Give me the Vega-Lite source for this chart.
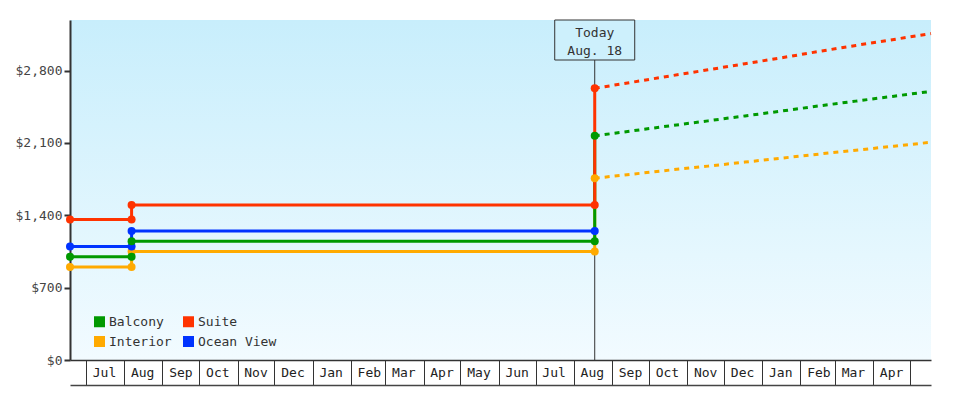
{
  "$schema": "https://vega.github.io/schema/vega-lite/v6.json",
  "autosize": "none",
  "width": 861,
  "height": 340,
  "padding": {"left": 70, "top": 20, "right": 49, "bottom": 40},
  "background": "#ffffff",
  "view": {
    "stroke": null,
    "fill": {
      "gradient": "linear", "x1": 0, "y1": 0, "x2": 0, "y2": 1,
      "stops": [{"offset": 0, "color": "#c8eefc"}, {"offset": 1, "color": "#f2fbff"}]
    }
  },
  "config": {"font": "DejaVu Sans Mono"},
  "datasets": {
    "hist": [
      {"type": "Interior", "date": "2017/06/18", "price": 899, "seq": 1},
      {"type": "Interior", "date": "2017/08/07", "price": 899, "seq": 2},
      {"type": "Interior", "date": "2017/08/07", "price": 1049, "seq": 3},
      {"type": "Interior", "date": "2018/08/18", "price": 1049, "seq": 4},
      {"type": "Interior", "date": "2018/08/18", "price": 1759, "seq": 5},
      {"type": "Ocean View", "date": "2017/06/18", "price": 1099, "seq": 1},
      {"type": "Ocean View", "date": "2017/08/07", "price": 1099, "seq": 2},
      {"type": "Ocean View", "date": "2017/08/07", "price": 1249, "seq": 3},
      {"type": "Ocean View", "date": "2018/08/18", "price": 1249, "seq": 4},
      {"type": "Balcony", "date": "2017/06/18", "price": 999, "seq": 1},
      {"type": "Balcony", "date": "2017/08/07", "price": 999, "seq": 2},
      {"type": "Balcony", "date": "2017/08/07", "price": 1149, "seq": 3},
      {"type": "Balcony", "date": "2018/08/18", "price": 1149, "seq": 4},
      {"type": "Balcony", "date": "2018/08/18", "price": 2169, "seq": 5},
      {"type": "Suite", "date": "2017/06/18", "price": 1359, "seq": 1},
      {"type": "Suite", "date": "2017/08/07", "price": 1359, "seq": 2},
      {"type": "Suite", "date": "2017/08/07", "price": 1499, "seq": 3},
      {"type": "Suite", "date": "2018/08/18", "price": 1499, "seq": 4},
      {"type": "Suite", "date": "2018/08/18", "price": 2629, "seq": 5}
    ],
    "forecast": [
      {"type": "Interior", "date": "2018/08/18", "price": 1759},
      {"type": "Interior", "date": "2018/09/18", "price": 1799},
      {"type": "Interior", "date": "2018/10/18", "price": 1838},
      {"type": "Interior", "date": "2018/11/18", "price": 1876},
      {"type": "Interior", "date": "2018/12/18", "price": 1915},
      {"type": "Interior", "date": "2019/01/18", "price": 1955},
      {"type": "Interior", "date": "2019/02/18", "price": 1995},
      {"type": "Interior", "date": "2019/03/18", "price": 2030},
      {"type": "Interior", "date": "2019/04/18", "price": 2069},
      {"type": "Interior", "date": "2019/05/18", "price": 2107},
      {"type": "Balcony", "date": "2018/08/18", "price": 2169},
      {"type": "Balcony", "date": "2018/09/18", "price": 2218},
      {"type": "Balcony", "date": "2018/10/18", "price": 2266},
      {"type": "Balcony", "date": "2018/11/18", "price": 2314},
      {"type": "Balcony", "date": "2018/12/18", "price": 2362},
      {"type": "Balcony", "date": "2019/01/18", "price": 2411},
      {"type": "Balcony", "date": "2019/02/18", "price": 2462},
      {"type": "Balcony", "date": "2019/03/18", "price": 2505},
      {"type": "Balcony", "date": "2019/04/18", "price": 2553},
      {"type": "Balcony", "date": "2019/05/18", "price": 2599},
      {"type": "Suite", "date": "2018/08/18", "price": 2629},
      {"type": "Suite", "date": "2018/09/18", "price": 2689},
      {"type": "Suite", "date": "2018/10/18", "price": 2748},
      {"type": "Suite", "date": "2018/11/18", "price": 2808},
      {"type": "Suite", "date": "2018/12/18", "price": 2867},
      {"type": "Suite", "date": "2019/01/18", "price": 2927},
      {"type": "Suite", "date": "2019/02/18", "price": 2990},
      {"type": "Suite", "date": "2019/03/18", "price": 3044},
      {"type": "Suite", "date": "2019/04/18", "price": 3102},
      {"type": "Suite", "date": "2019/05/18", "price": 3159}
    ],
    "today": [{"label": "Today\nAug. 18"}]
  },
  "resolve": {"axis": {"x": "independent"}},
  "layer": [
    {
      "data": {"name": "today"},
      "mark": {"type": "rule", "color": "#333333", "strokeWidth": 1, "y2Offset": 40},
      "encoding": {
        "x": {"datum": {"year": 2018, "month": 8, "date": 18}, "type": "temporal", "axis": null},
        "y": {"datum": 0, "type": "quantitative"},
        "y2": {"datum": 3290}
      }
    },
    {
      "data": {"name": "hist"},
      "mark": {"type": "line", "strokeWidth": 3},
      "encoding": {
        "x": {
          "field": "date", "type": "temporal",
          "scale": {"domain": [{"year": 2017, "month": 6, "date": 18}, {"year": 2019, "month": 5, "date": 18}]},
          "axis": {
            "orient": "bottom", "format": "%b", "tickCount": {"interval": "month", "step": 1},
            "tickSize": 25, "tickColor": "#333333", "tickWidth": 1,
            "domainColor": "#333333", "domainWidth": 1.5,
            "labelOffset": 18, "labelPadding": -19, "labelFlush": false, "labelOverlap": false, "labelBound": false,
            "labelExpr": "datum.value >= datetime(2019, 4, 1) ? '' : datum.label",
            "labelColor": "#222222", "labelFont": "DejaVu Sans Mono", "labelFontSize": 13,
            "grid": false, "title": null
          }
        },
        "y": {
          "field": "price", "type": "quantitative",
          "scale": {"domain": [0, 3290], "nice": false},
          "axis": {
            "orient": "left", "values": [0, 700, 1400, 2100, 2800], "format": "$,.0f",
            "domainColor": "#333333", "domainWidth": 2, "tickColor": "#333333", "tickWidth": 2, "tickSize": 6,
            "labelPadding": 2, "labelColor": "#444444", "labelFont": "DejaVu Sans Mono", "labelFontSize": 13,
            "grid": false, "title": null
          }
        },
        "color": {
          "field": "type", "type": "nominal",
          "scale": {"domain": ["Balcony", "Suite", "Interior", "Ocean View"], "range": ["#009900", "#ff3300", "#ffaa00", "#0033ff"]}
        },
        "order": {"field": "seq", "type": "quantitative"}
      }
    },
    {
      "data": {"name": "forecast"},
      "mark": {"type": "line", "strokeWidth": 3, "strokeDash": [5, 5]},
      "encoding": {
        "x": {
          "field": "date", "type": "temporal",
          "axis": {"orient": "bottom", "offset": 25, "domainColor": "#444444", "domainWidth": 1.5, "ticks": false, "labels": false, "grid": false, "title": null}
        },
        "y": {"field": "price", "type": "quantitative"},
        "color": {"field": "type", "type": "nominal"}
      }
    },
    {
      "data": {"name": "hist"},
      "mark": {"type": "point", "shape": "circle", "filled": true, "size": 64, "opacity": 1},
      "encoding": {
        "x": {"field": "date", "type": "temporal", "axis": null},
        "y": {"field": "price", "type": "quantitative"},
        "color": {
          "field": "type", "type": "nominal",
          "legend": {
            "orient": "none", "legendX": 23, "legendY": 295, "direction": "horizontal", "columns": 2, "title": null, "padding": 0,
            "symbolType": "square", "symbolSize": 121, "symbolStrokeWidth": 0,
            "labelFont": "DejaVu Sans Mono", "labelFontSize": 13, "labelColor": "#333333", "labelOffset": 3,
            "rowPadding": 6, "columnPadding": 10,
            "encode": {
              "symbols": {
                "update": {
                  "fill": {"scale": "color", "field": "value"},
                  "stroke": {"value": "transparent"},
                  "strokeDash": {"value": [1, 0]},
                  "opacity": {"value": 1}
                }
              }
            }
          }
        }
      }
    },
    {
      "data": {"name": "today"},
      "mark": {"type": "rect", "width": 80, "height": 40, "yOffset": 20, "fill": "#cdf0fc", "stroke": "#333333", "strokeWidth": 1},
      "encoding": {
        "x": {"datum": {"year": 2018, "month": 8, "date": 18}, "type": "temporal", "axis": null},
        "y": {"datum": 3290, "type": "quantitative"}
      }
    },
    {
      "data": {"name": "today"},
      "mark": {"type": "text", "lineBreak": "\n", "baseline": "middle", "align": "center", "yOffset": 13, "lineHeight": 18, "font": "DejaVu Sans Mono", "fontSize": 13, "color": "#333333"},
      "encoding": {
        "x": {"datum": {"year": 2018, "month": 8, "date": 18}, "type": "temporal", "axis": null},
        "y": {"datum": 3290, "type": "quantitative"},
        "text": {"field": "label"}
      }
    }
  ]
}
